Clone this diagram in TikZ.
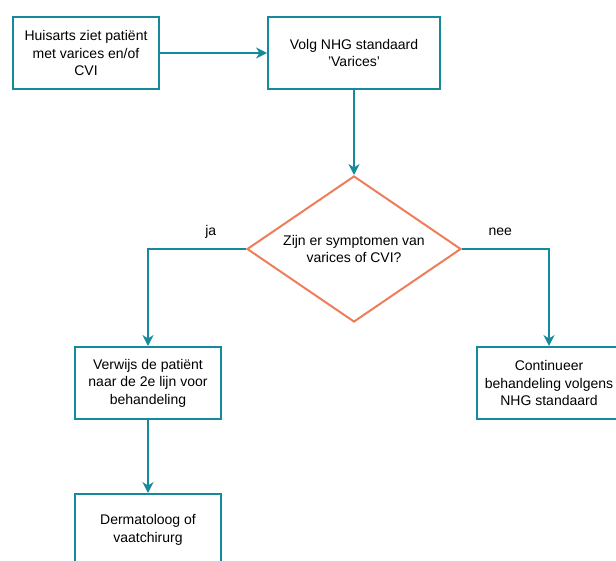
\documentclass[tikz,border=0pt]{standalone}
\usepackage{fontspec}
\setmainfont{Liberation Sans}
\usepackage{xcolor}
\definecolor{petrol}{RGB}{20,138,156}
\definecolor{zalm}{RGB}{238,125,90}
\usetikzlibrary{shapes.geometric,arrows.meta}
\tikzset{
  stap/.style={draw=petrol, line width=2pt, minimum width=146pt, minimum height=72pt, align=center, inner sep=0pt},
  keuze/.style={draw=zalm, diamond, line width=2pt, minimum width=214pt, minimum height=146pt, aspect=1.47, align=center, inner sep=0pt},
  pijl/.style={draw=petrol, line width=2pt, -{Stealth[length=11pt,width=11pt]}},
  tak/.style={above=6pt, text=black, text depth=3pt}
}

\begin{document}
\begin{tikzpicture}[x=1pt, y=-1pt, font=\fontsize{14}{17.5}\selectfont]
    \useasboundingbox (0,0) rectangle (616,561);
    \node[stap] (huisarts) at (86,53) {Huisarts ziet patiënt\\met varices en/of\\CVI};
    \node[stap, minimum width=172pt] (nhg) at (354,53) {Volg NHG standaard\\'Varices'};
    \node[keuze] (vraag) at (354,249) {Zijn er symptomen van\\varices of CVI?};
    \node[stap] (verwijs) at (148,383) {Verwijs de patiënt\\naar de 2e lijn voor\\behandeling};
    \node[stap, minimum width=144pt] (continueer) at (549,383) {Continueer\\behandeling volgens\\NHG standaard};
    \node[stap] (derma) at (148,530) {Dermatoloog of\\vaatchirurg};
    \draw[pijl] (huisarts) -- (nhg);
    \draw[pijl] (nhg.south) -- (vraag.north);
    \draw[pijl] (vraag.west) -| node[pos=0.18, tak] {ja} (verwijs.north);
    \draw[pijl] (vraag.east) -| node[pos=0.22, tak] {nee} (continueer.north);
    \draw[pijl] (verwijs) -- (derma);
\end{tikzpicture}
\end{document}
